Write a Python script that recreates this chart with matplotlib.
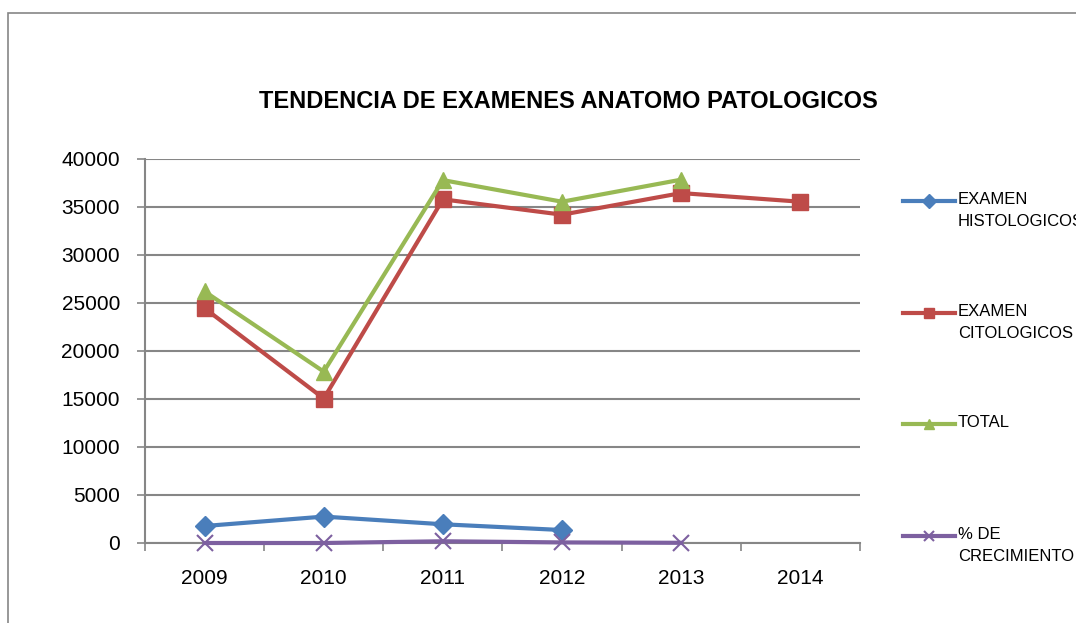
import matplotlib
matplotlib.use("Agg")
import matplotlib.pyplot as plt
from matplotlib.lines import Line2D
from matplotlib.patches import Rectangle

plt.rcParams['font.family'] = ['Liberation Sans Narrow', 'Liberation Sans', 'DejaVu Sans']

years = ['2009', '2010', '2011', '2012', '2013', '2014']
histologicos = [1770, 2750, 1950, 1350]
citologicos = [24450, 15050, 35800, 34200, 36450, 35550]
total = [26200, 17850, 37800, 35550, 37850]
crecimiento = [0, 0, 180, 60, 20]

series = [
    ("EXAMEN\nHISTOLOGICOS", histologicos, '#4A7EBB', 'D', 10),
    ("EXAMEN\nCITOLOGICOS", citologicos, '#BE4B48', 's', 11),
    ("TOTAL", total, '#98B954', '^', 11),
    ("% DE\nCRECIMIENTO", crecimiento, '#7D60A0', 'x', 11),
]

fig = plt.figure(figsize=(10.76, 6.23), dpi=100)
ax = fig.add_axes([145 / 1076, 1 - 543 / 623, 715 / 1076, 384 / 623])

# outer chart border
fig.patches.append(Rectangle((8 / 1076, -0.1), 1.2, 1 - 13 / 623 + 0.1,
                             transform=fig.transFigure, fill=False,
                             edgecolor='#868686', linewidth=1.2))

for label, vals, color, mk, ms in series:
    x = list(range(len(vals)))
    ax.plot(x, vals, color=color, linewidth=3, marker=mk, markersize=ms,
            markeredgewidth=1.5 if mk == 'x' else 1, markeredgecolor=color,
            solid_joinstyle='round', zorder=3, clip_on=False)

ax.set_xlim(-0.5, 5.5)
ax.set_ylim(0, 40000)
ax.set_yticks(range(0, 40001, 5000))
ax.set_xticks([i - 0.5 for i in range(7)], minor=False)
ax.set_xticklabels([])
ax.set_xticks(range(6), minor=True)
ax.set_xticklabels(years, minor=True)
ax.tick_params(axis='x', which='minor', length=0, labelsize=15, pad=19)
ax.tick_params(axis='x', which='major', length=6, color='#868686', width=1.2)
ax.tick_params(axis='y', length=6, color='#868686', width=1.2, labelsize=15, pad=12)
ax.grid(axis='y', color='#868686', linewidth=1.5)
ax.set_axisbelow(True)
for s in ['top', 'right']:
    ax.spines[s].set_visible(False)
for s in ['left', 'bottom']:
    ax.spines[s].set_color('#868686')
    ax.spines[s].set_linewidth(1.5)

fig.text(568 / 1076, 1 - 101 / 623, "TENDENCIA DE EXAMENES ANATOMO PATOLOGICOS",
         ha='center', va='center', fontsize=17, fontweight='bold')

# legend entries on the right
leg_y = [201, 313, 424, 536]
for (label, vals, color, mk, ms), yp in zip(series, leg_y):
    yf = 1 - yp / 623
    fig.add_artist(Line2D([903 / 1076, 955 / 1076], [yf, yf], color=color,
                          linewidth=3, transform=fig.transFigure))
    fig.add_artist(Line2D([929 / 1076], [yf], color=color, marker=mk,
                          markersize=7, markeredgewidth=1.5 if mk == 'x' else 1,
                          transform=fig.transFigure))
    fig.text(958 / 1076, 1 - (yp - 9) / 623, label, ha='left', va='top',
             fontsize=12, linespacing=1.6)

fig.savefig('out.png', dpi=100)
